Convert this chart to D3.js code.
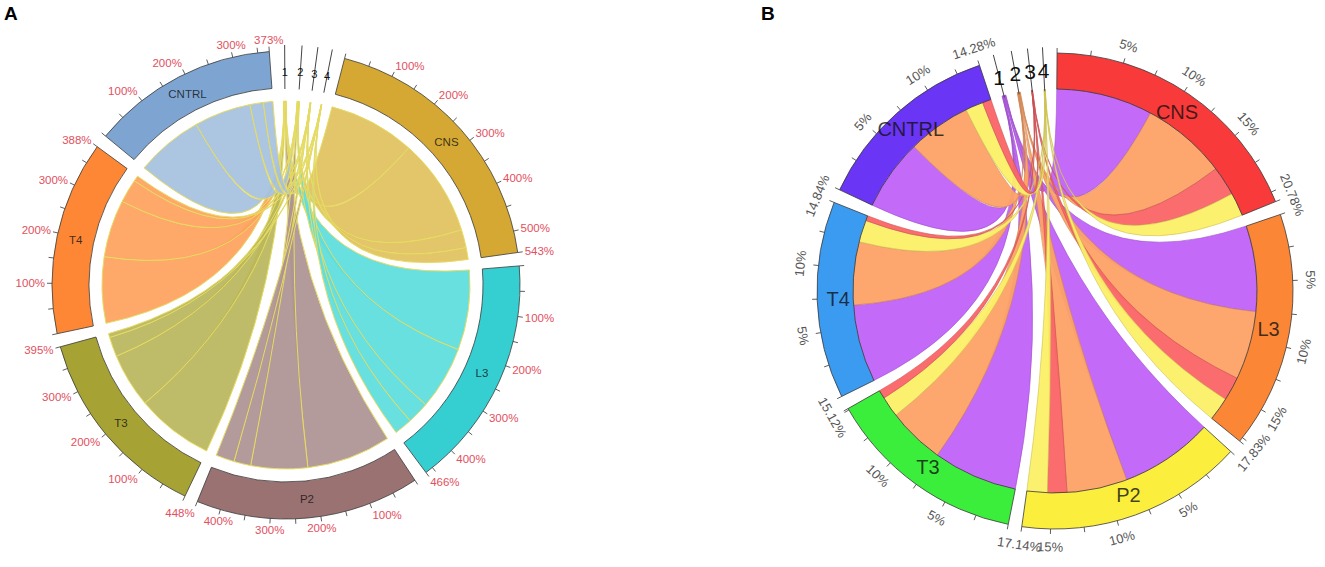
<!DOCTYPE html>
<html>
<head>
<meta charset="utf-8">
<title>Chord diagrams A and B</title>
<script src="https://d3js.org/d3.v7.min.js"></script>
<style>
  body { margin: 0; background: #fff; }
  text { font-family: "Liberation Sans", Arial, sans-serif; }
</style>
</head>
<body>
<div id="chart"></div>
<script>
// sectors, clockwise starting right after the small "1-4" sectors at the top
const samples = ["CNS", "L3", "P2", "T3", "T4", "CNTRL"];
const groups = ["1", "2", "3", "4"];

// panel A : totals (%) and the part of each sample going to group 1..4
const totalsA = [543, 466, 448, 395, 388, 373];
const toG1A = [220, 203, 214, 197, 168, 171];
const toG2A = [247, 161, 144, 138, 146, 144];
const toG3A = [46, 56, 43, 50, 60, 34];
const toG4A = [30, 46, 47, 10, 14, 24];

// panel B : totals (%) and the part of each sample going to group 1..4
const totalsB = [20.78, 17.83, 17.14, 15.12, 14.84, 14.28];
const toG1B = [8.55, 7.60, 8.26, 7.50, 6.87, 6.33];
const toG2B = [7.56, 6.07, 5.35, 5.05, 5.58, 5.60];
const toG3B = [2.61, 2.11, 1.73, 0.75, 0.44, 0.78];
const toG4B = [2.06, 2.05, 1.80, 1.82, 1.95, 1.57];
// order of the links along each sector (index into groups)
const orderB = [[0,1,2,3],[0,1,2,3],[0,1,2,3],[0,1,3,2],[0,1,3,2],[0,1,3,2]];
const orderA = samples.map(() => [0,1,2,3]);

// colours
const bandColA  = ["#d4a833", "#35cfd2", "#9b7272", "#a6a234", "#fd8735", "#7ea5d2"];
const chordColA = ["#e0c25e", "#5edede", "#ae9393", "#b9b75c", "#fea15e", "#a6c1df"];
const bandColB  = ["#f93a3a", "#fb8636", "#fbee3c", "#3bee3b", "#3b9bf1", "#6a35f4"];
const groupColB = ["#c162f8", "#fda266", "#fa6466", "#fcef67"];

const width = 1325, height = 567;
const svg = d3.select("#chart").append("svg")
  .attr("width", width).attr("height", height)
  .attr("viewBox", [0, 0, width, height]);

const rad = d => d * Math.PI / 180;

function drawPanel(p) {
  const g = svg.append("g").attr("transform", `translate(${p.cx},${p.cy})`);

  const groupTot = groups.map((_, j) => d3.sum(p.flows[j]));
  const tinyW = groupTot.map(v => v * p.tinyScale);
  const k = (360 - 10 * p.gap - d3.sum(tinyW)) / d3.sum(p.totals);

  let a = p.start;
  const sec = samples.map((name, i) => {
    const s = { name, i, tot: p.totals[i], a0: a, a1: a + k * p.totals[i] };
    s.scale = d3.scaleLinear().domain([0, s.tot]).range([s.a0, s.a1]);
    a = s.a1 + p.gap;
    return s;
  });
  const tiny = groups.map((name, j) => {
    const t = { name, a0: a, a1: a + tinyW[j] };
    a = t.a1 + p.gap;
    return t;
  });

  // links: source side on the sample sector
  const links = [];
  sec.forEach(s => {
    let v = 0;
    p.order[s.i].forEach(j => {
      const val = p.flows[j][s.i];
      links.push({ i: s.i, j, src: [s.scale(v), s.scale(v + val)] });
      v += val;
    });
  });
  // target side on the small sectors, samples counter-clockwise
  tiny.forEach((t, j) => {
    let u = t.a0;
    for (let i = samples.length - 1; i >= 0; i--) {
      const l = links.find(d => d.i === i && d.j === j);
      const w = p.flows[j][i] * p.tinyScale;
      l.tgt = [u, u + w];
      u += w;
    }
  });

  const ribbon = d3.ribbon().radius(p.rChord);
  g.append("g").selectAll("path")
    .data(links)
    .join("path")
    .attr("d", d => ribbon({
      source: { startAngle: rad(d.src[0]), endAngle: rad(d.src[1]) },
      target: { startAngle: rad(d.tgt[0]), endAngle: rad(d.tgt[1]) }
    }))
    .attr("fill", d => p.linkFill(d))
    .attr("fill-opacity", p.linkOpacity)
    .attr("stroke", d => p.linkStroke(d))
    .attr("stroke-width", p.linkStrokeW);

  // outer band
  const arc = d3.arc().innerRadius(p.rIn).outerRadius(p.rOut);
  g.append("g").selectAll("path")
    .data(sec)
    .join("path")
    .attr("d", d => arc({ startAngle: rad(d.a0), endAngle: rad(d.a1) }))
    .attr("fill", d => p.bandCol[d.i])
    .attr("stroke", "#3a3a3a")
    .attr("stroke-width", 0.8);

  // sample names
  g.append("g").selectAll("text")
    .data(sec)
    .join("text")
    .attr("x", d => p.rName * Math.sin(rad((d.a0 + d.a1) / 2)))
    .attr("y", d => -p.rName * Math.cos(rad((d.a0 + d.a1) / 2)))
    .attr("text-anchor", "middle")
    .attr("dominant-baseline", "central")
    .attr("font-size", p.nameSize)
    .attr("fill", "#111")
    .attr("fill-opacity", 0.8)
    .text(d => d.name);

  // ticks and tick labels
  const axis = g.append("g");
  sec.forEach(s => {
    const vals = d3.range(0, s.tot + 1e-9, p.minor);
    if (s.tot - vals[vals.length - 1] > 1e-9) vals.push(s.tot);
    vals.forEach(v => {
      const t = rad(s.scale(v));
      axis.append("line")
        .attr("x1", p.rOut * Math.sin(t)).attr("y1", -p.rOut * Math.cos(t))
        .attr("x2", (p.rOut + p.tickLen) * Math.sin(t)).attr("y2", -(p.rOut + p.tickLen) * Math.cos(t))
        .attr("stroke", "#333").attr("stroke-width", 0.8);
    });
    const labs = vals.filter(v => {
      const q = v / p.major;
      return v > 0 && Math.abs(q - Math.round(q)) < 1e-6 && s.tot - v >= 0.3 * p.major;
    }).map(v => ({ v, txt: p.fmt(v) }));
    labs.push({ v: s.tot, txt: p.fmtEnd(s.tot) });
    labs.forEach(l => {
      const deg = s.scale(l.v), t = rad(deg);
      const sn = Math.sin(t), cs = Math.cos(t);
      const txt = axis.append("text")
        .attr("font-size", p.tickSize)
        .attr("fill", p.tickCol)
        .attr("dominant-baseline", "central")
        .text(l.txt);
      const r = p.rOut + p.labOff;
      if (p.rotateLabels) {
        const dd = ((deg % 360) + 360) % 360;
        const rot = (dd > 90 && dd < 270) ? dd - 180 : dd;
        txt.attr("text-anchor", "middle")
          .attr("transform", `translate(${r * sn},${-r * cs}) rotate(${rot})`);
      } else {
        txt.attr("x", r * sn)
          .attr("y", -r * cs - cs * 5)
          .attr("text-anchor", sn > 0.3 ? "start" : sn < -0.3 ? "end" : "middle");
      }
    });
  });

  // small sectors 1-4
  tiny.forEach(t => {
    const m = rad((t.a0 + t.a1) / 2);
    g.append("line")
      .attr("x1", p.tinyR0 * Math.sin(m)).attr("y1", -p.tinyR0 * Math.cos(m))
      .attr("x2", p.tinyR1 * Math.sin(m)).attr("y2", -p.tinyR1 * Math.cos(m))
      .attr("stroke", "#444").attr("stroke-width", 1);
    g.append("text")
      .attr("x", p.tinyRL * Math.sin(m)).attr("y", -p.tinyRL * Math.cos(m))
      .attr("text-anchor", "middle")
      .attr("dominant-baseline", "central")
      .attr("font-size", p.tinySize)
      .attr("fill", "#111")
      .text(t.name);
  });
}

drawPanel({
  cx: 286, cy: 285, rOut: 234, rIn: 197, rChord: 184,
  start: 14.5, gap: 3.3, tinyScale: 0.0008,
  totals: totalsA, flows: [toG1A, toG2A, toG3A, toG4A], order: orderA,
  bandCol: bandColA,
  linkFill: d => chordColA[d.i], linkOpacity: 0.93,
  linkStroke: () => "#e6dc62", linkStrokeW: 1,
  rName: 215, nameSize: 11.5,
  minor: 50, major: 100, tickLen: 5, labOff: 7, tickSize: 11.5, tickCol: "#e2505e",
  fmt: v => v + "%", fmtEnd: v => v + "%", rotateLabels: false,
  tinyR0: 196, tinyR1: 240, tinyRL: 213, tinySize: 11
});

drawPanel({
  cx: 1055, cy: 291, rOut: 238, rIn: 202, rChord: 202,
  start: 0.5, gap: 3.3, tinyScale: 0.025,
  totals: totalsB, flows: [toG1B, toG2B, toG3B, toG4B], order: orderB,
  bandCol: bandColB,
  linkFill: d => groupColB[d.j], linkOpacity: 0.95,
  linkStroke: d => d3.color(groupColB[d.j]).darker(0.6), linkStrokeW: 0.6,
  rName: 217, nameSize: 20,
  minor: 2.5, major: 5, tickLen: 5, labOff: 18, tickSize: 13, tickCol: "#555",
  fmt: v => v + "%", fmtEnd: v => v.toFixed(2) + "%", rotateLabels: true,
  tinyR0: 200, tinyR1: 244, tinyRL: 221, tinySize: 21
});

// panel letters
svg.append("text").attr("x", 4).attr("y", 20).attr("font-size", 19).attr("font-weight", "bold").text("A");
svg.append("text").attr("x", 761).attr("y", 20).attr("font-size", 19).attr("font-weight", "bold").text("B");
</script>
</body>
</html>
